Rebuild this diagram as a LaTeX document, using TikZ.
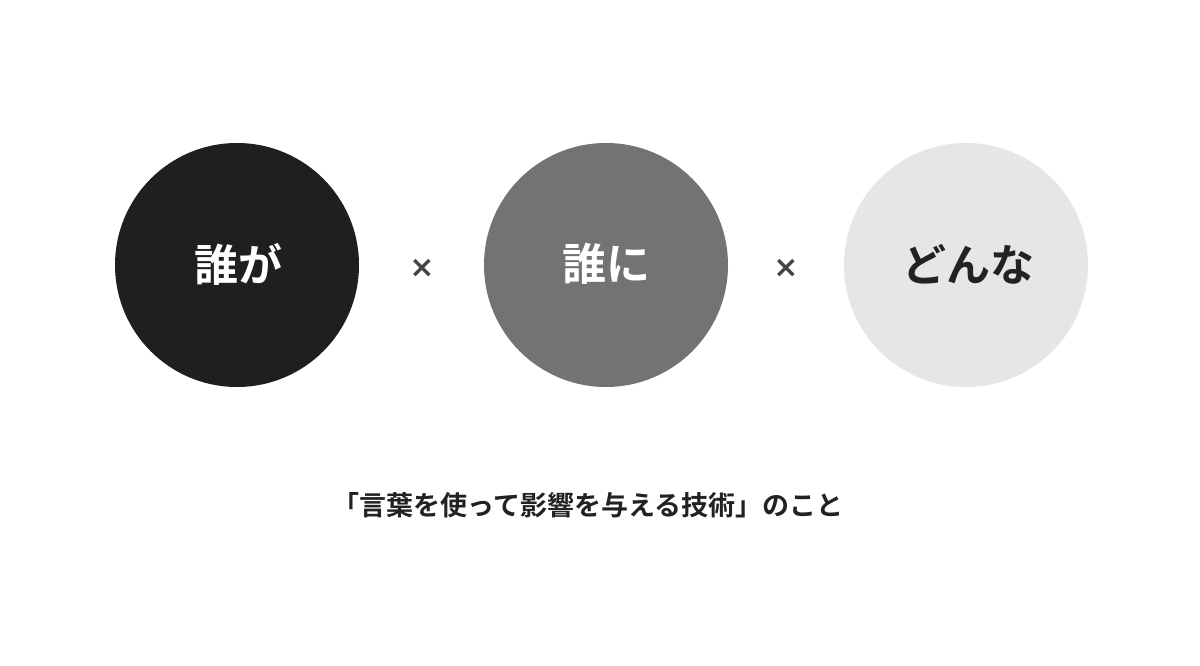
\documentclass[tikz,border=0pt]{standalone}
\usepackage{fontspec}
\newfontfamily\jpb{Noto Sans CJK JP Bold}
\newfontfamily\djb{DejaVu Sans Bold}
\definecolor{cA}{HTML}{1F1F1F}
\definecolor{cB}{HTML}{737373}
\definecolor{cC}{HTML}{E6E6E6}
\definecolor{tx}{HTML}{222222}
\definecolor{mark}{HTML}{444444}
\begin{document}
\begin{tikzpicture}[x=1pt,y=-1pt,
  ball/.style={circle,minimum size=244pt,inner sep=0pt},
  lbl/.style={font=\jpb\fontsize{44}{48}\selectfont},
  times/.style={font=\djb\fontsize{30}{32}\selectfont,text=mark},
]
\useasboundingbox[fill=white] (0,0) rectangle (1200,666);
\node[ball,fill=cA] (c1) at (237,265) {};
\node[ball,fill=cB] (c2) at (606,265) {};
\node[ball,fill=cC] (c3) at (966,265) {};
\node[lbl,text=white] (t1) at (238,264) {誰が};
\node[lbl,text=white] (t2) at (606,264) {誰に};
\node[lbl,text=tx] (t3) at (968,264) {どんな};
\node[times] (x1) at (422,268) {×};
\node[times] (x2) at (786,268) {×};
\node[font=\jpb\fontsize{27}{30}\selectfont,text=tx] (cap) at (588,505) {「言葉を使って影響を与える技術」のこと};
\end{tikzpicture}
\end{document}
